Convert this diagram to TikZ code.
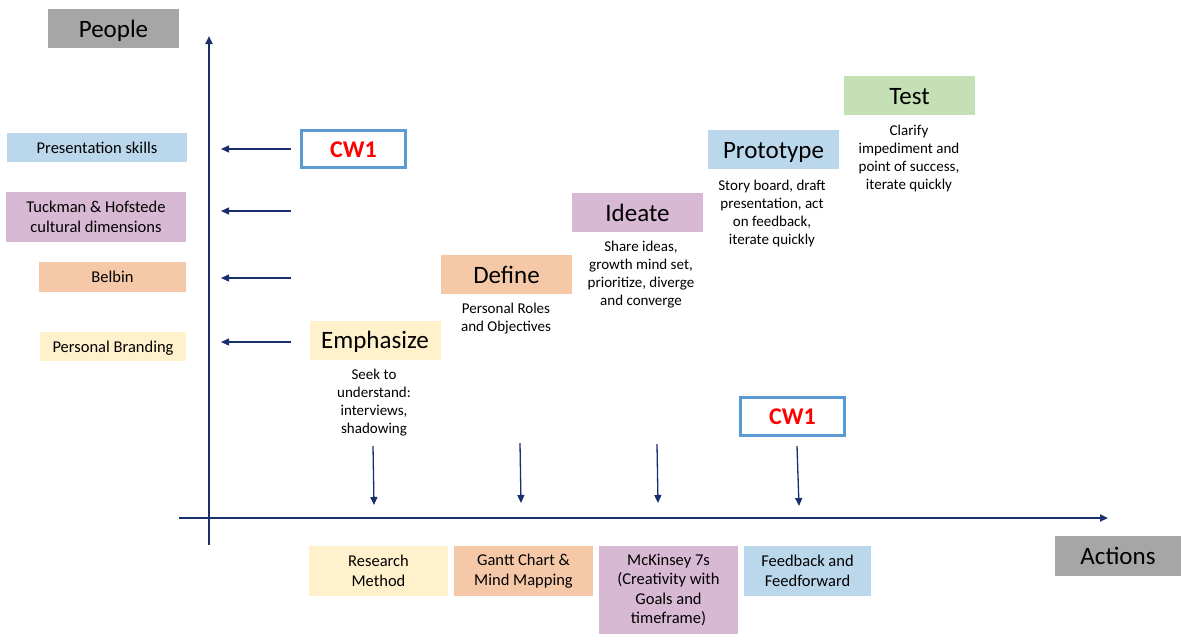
\documentclass[tikz,border=0pt]{standalone}
\usepackage{fontspec}
\setmainfont{Carlito}
\usetikzlibrary{arrows.meta}

\definecolor{axisblue}{RGB}{24,48,110}
\definecolor{boxgray}{RGB}{166,166,166}
\definecolor{softblue}{RGB}{187,215,236}
\definecolor{softpurple}{RGB}{216,185,212}
\definecolor{softorange}{RGB}{245,200,168}
\definecolor{softyellow}{RGB}{255,241,204}
\definecolor{softgreen}{RGB}{197,224,180}
\definecolor{cwborder}{RGB}{91,155,213}
\definecolor{cwred}{RGB}{255,0,0}

\tikzset{
  fbox/.style={inner sep=0pt, align=center, text=black},
  axislabel/.style={fbox, fill=boxgray, font=\fontsize{25}{30}\selectfont,
    text height=21pt, text depth=4pt},
  sidebox/.style={fbox, font=\fontsize{16.5}{20}\selectfont},
  oneline/.style={text height=13pt, text depth=1.4pt},
  stagebox/.style={fbox, minimum width=131pt, minimum height=39pt, font=\fontsize{25}{30}\selectfont,
    text height=21pt, text depth=4pt},
  stagenote/.style={fbox, font=\fontsize{15}{18}\selectfont},
  toolbox/.style={fbox, minimum height=50pt, font=\fontsize{16.5}{19.5}\selectfont},
  cwbox/.style={fbox, draw=cwborder, line width=3.5pt, minimum width=104pt, minimum height=37pt,
    text=cwred, font=\fontsize{24}{28}\selectfont\bfseries, text height=20.6pt, text depth=4pt},
  axisline/.style={draw=axisblue, line width=2pt, -{Triangle[length=8pt,width=7pt]}},
  pointer/.style={draw=axisblue, line width=1.3pt, -{Triangle[length=8pt,width=7pt]}},
}

\begin{document}
\begin{tikzpicture}[x=1pt, y=-1pt]
  \useasboundingbox (0,0) rectangle (1181,635);

  % axes
  \coordinate (yaxis0) at (209,545);
  \coordinate (yaxis1) at (209,36);
  \coordinate (xaxis0) at (179,518);
  \coordinate (xaxis1) at (1108,518);
  \draw[axisline] (yaxis0) -- (yaxis1);
  \draw[axisline] (xaxis0) -- (xaxis1);

  % axis titles
  \node[axislabel, minimum width=131pt, minimum height=39pt] (people) at (113.5,28.5) {People};
  \node[axislabel, minimum width=126pt, minimum height=40pt] (actions) at (1118,556) {Actions};

  % people-side topics
  \node[sidebox, oneline, fill=softblue, minimum width=180pt, minimum height=29pt] (present) at (97,147.5) {Presentation skills};
  \node[sidebox, fill=softpurple, minimum width=180pt, minimum height=50pt] (tuckman) at (96,217) {Tuckman \& Hofstede\\cultural dimensions};
  \node[sidebox, oneline, fill=softorange, minimum width=147pt, minimum height=30pt] (belbin) at (112.5,277) {Belbin};
  \node[sidebox, oneline, fill=softyellow, minimum width=146pt, minimum height=29pt] (brand) at (113,346.5) {Personal Branding};

  % arrows pointing at the people axis
  \foreach \n/\y in {a/149, b/211, c/278, d/342} {
    \coordinate (ls\n) at (291,\y);
    \coordinate (le\n) at (221,\y);
    \draw[pointer] (ls\n) -- (le\n);
  }

  % coursework markers
  \node[cwbox] (cwtop) at (353.5,149) {CW1};
  \node[cwbox, minimum height=38pt] (cwbot) at (792.5,416.5) {CW1};

  % design-thinking stages
  \node[stagebox, fill=softyellow] (emph) at (375,340) {Emphasize};
  \node[stagebox, fill=softorange] (define) at (506.5,274.5) {Define};
  \node[stagebox, fill=softpurple] (ideate) at (637.5,212.5) {Ideate};
  \node[stagebox, fill=softblue] (proto) at (773.5,149.5) {Prototype};
  \node[stagebox, fill=softgreen] (test) at (909.5,95.5) {Test};

  \node[stagenote] (emphnote) at (374,403) {Seek to\\understand:\\interviews,\\shadowing};
  \node[stagenote] (definenote) at (506,319) {Personal Roles\\and Objectives};
  \node[stagenote] (ideatenote) at (641,275) {Share ideas,\\growth mind set,\\prioritize, diverge\\and converge};
  \node[stagenote] (protonote) at (772,213) {Story board, draft\\presentation, act\\on feedback,\\iterate quickly};
  \node[stagenote] (testnote) at (909,158) {Clarify\\impediment and\\point of success,\\iterate quickly};

  % arrows down to the actions axis
  \coordinate (ds1) at (373,446); \coordinate (de1) at (374,505);
  \coordinate (ds2) at (520,443); \coordinate (de2) at (521,503);
  \coordinate (ds3) at (657,444); \coordinate (de3) at (658,503);
  \coordinate (ds4) at (797,446); \coordinate (de4) at (799,506);
  \draw[pointer] (ds1) -- (de1);
  \draw[pointer] (ds2) -- (de2);
  \draw[pointer] (ds3) -- (de3);
  \draw[pointer] (ds4) -- (de4);

  % action tools
  \node[toolbox, fill=softyellow, minimum width=139pt] (research) at (378.5,571) {Research\\Method};
  \node[toolbox, fill=softorange, minimum width=139pt] (gantt) at (523.5,571) {Gantt Chart \&\\Mind Mapping};
  \node[toolbox, fill=softpurple, minimum width=139pt, minimum height=88pt] (mckinsey) at (668.5,590) {McKinsey 7s\\(Creativity with\\Goals and\\timeframe)};
  \node[toolbox, fill=softblue, minimum width=127pt] (feedback) at (807.5,571) {Feedback and\\Feedforward};
\end{tikzpicture}
\end{document}
